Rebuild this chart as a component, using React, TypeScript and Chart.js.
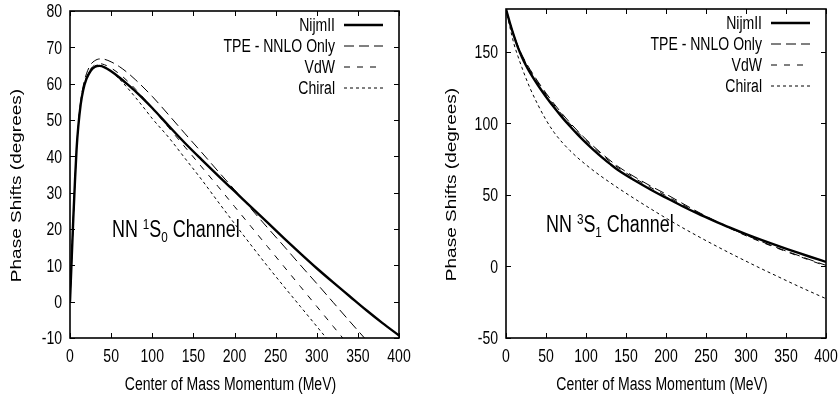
import React, { useEffect, useRef } from "react";
import { Chart, registerables } from "chart.js";

Chart.register(...registerables);

const FONT = "'Liberation Sans', Arial, Helvetica, sans-serif";
// glyphs are drawn horizontally condensed
const SQUEEZE = 0.78;

// ---- 1S0 channel (left panel) ----
const K_1S0 = [0, 1, 2, 4, 6, 8, 10, 13, 16, 20, 25, 30, 36, 42, 50, 60, 70, 80, 90, 100, 120, 140, 160, 180, 200, 220, 240, 260, 280, 300, 320, 340, 360, 380, 400];
const NIJM_1S0 = [0, 5.8, 11.5, 22.8, 33, 42, 48, 54.3, 58.2, 61.3, 63.5, 64.6, 64.9, 64.5, 63.4, 61.7, 59.8, 57.8, 55.6, 53.3, 48.4, 43.6, 39.1, 34.7, 30.4, 26.1, 21.8, 17.5, 13.3, 9.2, 5.3, 1.5, -2.3, -5.9, -9.3];
const TPE_1S0 = [0, 5.8, 11.5, 22.8, 33, 42.2, 48.5, 55.2, 59.3, 62.7, 65.2, 66.3, 66.8, 66.7, 66.0, 64.7, 63.0, 61.0, 58.8, 56.5, 51.4, 46.2, 41.1, 35.9, 30.8, 25.6, 20.4, 15.3, 10.1, 5.0, -0.2, -5.4, -10.5, -15.6, -20.7];
const VDW_1S0 = [0, 5.8, 11.5, 22.8, 33, 42.1, 48.2, 54.6, 58.6, 61.7, 64.0, 65.1, 65.5, 65.2, 64.3, 62.7, 60.7, 58.4, 55.9, 53.3, 47.9, 42.5, 37.1, 31.7, 26.2, 20.7, 15.2, 9.7, 4.2, -1.3, -6.8, -12.3, -17.8, -23.3, -28.8];
const CHIRAL_1S0 = [0, 5.8, 11.5, 22.8, 33, 42.1, 48.2, 54.5, 58.5, 61.5, 63.8, 64.9, 65.1, 64.6, 63.4, 61.3, 58.8, 56.1, 53.3, 50.4, 45.2, 39.4, 33.6, 27.5, 21.5, 15.6, 9.8, 4.2, -1.3, -6.8, -12.3, -17.8, -23.3, -28.8, -34.3];

// ---- 3S1 channel (right panel) ----
const K_3S1 = [0, 5, 10, 15, 20, 25, 30, 40, 50, 60, 70, 80, 90, 100, 110, 120, 130, 140, 160, 180, 200, 220, 240, 260, 280, 300, 320, 340, 360, 380, 400];
const NIJM_3S1 = [180, 170, 161, 153, 146.3, 140.5, 135.5, 126.7, 118.7, 111.3, 104.4, 98.0, 92.0, 86.4, 81.2, 76.3, 71.7, 67.4, 60.4, 54.0, 48.1, 42.3, 36.9, 31.9, 27.1, 22.6, 18.4, 14.4, 10.6, 6.8, 3.2];
const TPE_3S1 = [180, 170.3, 161.6, 154, 147.8, 142.5, 137.8, 129.2, 121.2, 113.8, 106.9, 100.5, 94.5, 88.9, 83.7, 78.8, 74.2, 69.9, 62.9, 56.5, 50.6, 44.3, 38.1, 32.4, 26.9, 21.9, 17.3, 12.9, 8.8, 4.7, 0.8];
const VDW_3S1 = [180, 170.2, 161.4, 153.6, 147.2, 141.9, 137.1, 128.4, 120.4, 113.0, 106.1, 99.7, 93.7, 88.1, 82.9, 78.0, 73.4, 69.1, 62.0, 55.5, 49.5, 43.4, 37.7, 32.0, 26.6, 21.5, 16.9, 12.6, 8.4, 4.3, 0.3];
const CHIRAL_3S1 = [180, 167, 155.5, 146.8, 138.9, 131.5, 124.7, 112.9, 102.5, 93.8, 86.9, 81.0, 75.8, 71.1, 66.7, 62.6, 58.7, 54.9, 47.6, 40.6, 33.8, 27.3, 21.1, 15.1, 9.3, 3.7, -1.8, -7.1, -12.4, -17.5, -22.5];

const SERIES_LABELS = ["NijmII", "TPE - NNLO Only", "VdW", "Chiral"];
const X_TICKS = [0, 50, 100, 150, 200, 250, 300, 350, 400];
const Y_TICKS_1S0 = [-10, 0, 10, 20, 30, 40, 50, 60, 70, 80];
const Y_TICKS_3S1 = [-50, 0, 50, 100, 150];

const X_TITLE = "Center of Mass Momentum (MeV)";
const Y_TITLE = "Phase Shifts (degrees)";

// line style per series: solid thick, long dash, medium dash, dots
const LINE_STYLES = [
  { width: 2.4, dash: [] as number[] },
  { width: 1, dash: [10, 5] },
  { width: 1, dash: [6, 7] },
  { width: 1, dash: [3, 3] },
];

type Part = { t: string; k: "n" | "sup" | "sub" };

function squeezedText(
  ctx: CanvasRenderingContext2D,
  text: string,
  x: number,
  y: number,
  size: number,
  align: CanvasTextAlign,
  baseline: CanvasTextBaseline = "alphabetic",
  vertical = false
) {
  ctx.save();
  ctx.translate(x, y);
  if (vertical) {
    ctx.rotate(-Math.PI / 2);
    ctx.scale(1, SQUEEZE);
  } else {
    ctx.scale(SQUEEZE, 1);
  }
  ctx.font = `${size}px ${FONT}`;
  ctx.fillStyle = "#000";
  ctx.textAlign = align;
  ctx.textBaseline = baseline;
  ctx.fillText(text, 0, 0);
  ctx.restore();
}

function squeezedWidth(ctx: CanvasRenderingContext2D, text: string, size: number) {
  ctx.save();
  ctx.font = `${size}px ${FONT}`;
  const w = ctx.measureText(text).width * SQUEEZE;
  ctx.restore();
  return w;
}

// Frame around the plot area with inward tick marks on all four sides
const framePlugin = {
  id: "frame",
  afterDatasetsDraw(chart: any) {
    const { ctx, chartArea: a, scales } = chart;
    ctx.save();
    ctx.strokeStyle = "#000";
    ctx.setLineDash([]);
    ctx.lineWidth = 1;
    const t = 5;
    ctx.beginPath();
    scales.x.ticks.forEach((tk: any) => {
      const px = Math.round(scales.x.getPixelForValue(tk.value)) + 0.5;
      ctx.moveTo(px, a.bottom);
      ctx.lineTo(px, a.bottom - t);
      ctx.moveTo(px, a.top);
      ctx.lineTo(px, a.top + t);
    });
    scales.y.ticks.forEach((tk: any) => {
      const py = Math.round(scales.y.getPixelForValue(tk.value)) + 0.5;
      ctx.moveTo(a.left, py);
      ctx.lineTo(a.left + t, py);
      ctx.moveTo(a.right, py);
      ctx.lineTo(a.right - t, py);
    });
    ctx.stroke();
    ctx.lineWidth = 1.6;
    ctx.strokeRect(a.left, a.top, a.right - a.left, a.bottom - a.top);
    ctx.restore();
  },
};

// Tick labels and axis titles in the condensed face
const axisTextPlugin = {
  id: "axisText",
  afterDraw(chart: any, _args: any, opts: any) {
    const { ctx, chartArea: a, scales } = chart;
    scales.x.ticks.forEach((tk: any) => {
      squeezedText(ctx, String(tk.value), scales.x.getPixelForValue(tk.value), a.bottom + 23.5, 18, "center");
    });
    scales.y.ticks.forEach((tk: any) => {
      squeezedText(ctx, String(tk.value), a.left - 8, scales.y.getPixelForValue(tk.value) + 6.3, 18, "right");
    });
    squeezedText(ctx, X_TITLE, (a.left + a.right) / 2 - 4, a.bottom + 52, 18, "center");
    squeezedText(ctx, Y_TITLE, opts.yTitleX, (a.top + a.bottom) / 2 + 11, 19, "center", "middle", true);
  },
};

// Key in the upper right: right-aligned label followed by a line sample
const keyPlugin = {
  id: "key",
  afterDatasetsDraw(chart: any) {
    const { ctx, chartArea: a } = chart;
    chart.data.datasets.forEach((ds: any, i: number) => {
      const y = a.top + 13.5 + i * 21;
      squeezedText(ctx, ds.label, a.right - 64, y + 6.5, 18, "right");
      ctx.save();
      ctx.strokeStyle = "#000";
      ctx.beginPath();
      ctx.setLineDash(ds.borderDash || []);
      ctx.lineWidth = ds.borderWidth;
      ctx.moveTo(a.right - 55, y + 0.5);
      ctx.lineTo(a.right - 16, y + 0.5);
      ctx.stroke();
      ctx.restore();
    });
  },
};

// Channel name with super/subscripts, anchored in data coordinates
const channelPlugin = {
  id: "channel",
  afterDatasetsDraw(chart: any, _args: any, opts: any) {
    if (!opts || !opts.parts) return;
    const { ctx, scales } = chart;
    let x = scales.x.getPixelForValue(opts.x);
    const y = scales.y.getPixelForValue(opts.y);
    (opts.parts as Part[]).forEach((p) => {
      const size = p.k === "n" ? 23 : 15;
      const dy = p.k === "sup" ? -8 : p.k === "sub" ? 5 : 0;
      squeezedText(ctx, p.t, x, y + dy, size, "left");
      x += squeezedWidth(ctx, p.t, size);
    });
  },
};

function buildConfig(
  k: number[],
  series: number[][],
  yMin: number,
  yMax: number,
  yTicks: number[],
  yAxisWidth: number,
  yTitleX: number,
  padding: { top: number; right: number },
  channel: { x: number; y: number; parts: Part[] }
): any {
  return {
    type: "line",
    data: {
      datasets: series.map((vals, i) => ({
        label: SERIES_LABELS[i],
        data: k.map((x, j) => ({ x, y: vals[j] })),
        borderColor: "#000",
        borderWidth: LINE_STYLES[i].width,
        borderDash: LINE_STYLES[i].dash,
        pointRadius: 0,
        fill: false,
        cubicInterpolationMode: "monotone",
      })),
    },
    options: {
      responsive: false,
      animation: false,
      layout: { padding: { top: padding.top, right: padding.right, left: 0, bottom: 0 } },
      plugins: {
        legend: { display: false },
        tooltip: { enabled: false },
        channel,
        axisText: { yTitleX },
      },
      scales: {
        x: {
          type: "linear",
          min: 0,
          max: 400,
          afterBuildTicks: (s: any) => {
            s.ticks = X_TICKS.map((v) => ({ value: v }));
          },
          afterFit: (s: any) => {
            s.height = 62;
          },
          grid: { display: false, drawTicks: false },
          border: { display: false },
          ticks: { display: false },
          title: { display: false },
        },
        y: {
          type: "linear",
          min: yMin,
          max: yMax,
          afterBuildTicks: (s: any) => {
            s.ticks = yTicks.map((v) => ({ value: v }));
          },
          afterFit: (s: any) => {
            s.width = yAxisWidth;
          },
          grid: { display: false, drawTicks: false },
          border: { display: false },
          ticks: { display: false },
          title: { display: false },
        },
      },
    },
    plugins: [framePlugin, keyPlugin, channelPlugin, axisTextPlugin],
  };
}

function PhasePanel({ config }: { config: () => any }) {
  const ref = useRef<HTMLCanvasElement | null>(null);
  useEffect(() => {
    if (!ref.current) return;
    const chart = new Chart(ref.current, config());
    return () => chart.destroy();
  }, [config]);
  return <canvas ref={ref} width={419} height={400} style={{ display: "block", width: 419, height: 400 }} />;
}

const leftConfig = () =>
  buildConfig(
    K_1S0,
    [NIJM_1S0, TPE_1S0, VDW_1S0, CHIRAL_1S0],
    -10,
    80,
    Y_TICKS_1S0,
    70,
    17,
    { top: 11, right: 20 },
    {
      x: 51,
      y: 17.9,
      parts: [
        { t: "NN ", k: "n" },
        { t: "1", k: "sup" },
        { t: "S", k: "n" },
        { t: "0", k: "sub" },
        { t: " Channel", k: "n" },
      ],
    }
  );

const rightConfig = () =>
  buildConfig(
    K_3S1,
    [NIJM_3S1, TPE_3S1, VDW_3S1, CHIRAL_3S1],
    -50,
    180,
    Y_TICKS_3S1,
    87,
    33,
    { top: 9, right: 12 },
    {
      x: 50,
      y: 24.2,
      parts: [
        { t: "NN ", k: "n" },
        { t: "3", k: "sup" },
        { t: "S", k: "n" },
        { t: "1", k: "sub" },
        { t: " Channel", k: "n" },
      ],
    }
  );

export default function App() {
  return (
    <div
      style={{
        position: "fixed",
        left: 0,
        top: 0,
        width: 838,
        height: 400,
        background: "#fff",
        display: "flex",
        overflow: "hidden",
      }}
    >
      <PhasePanel config={leftConfig} />
      <PhasePanel config={rightConfig} />
    </div>
  );
}
